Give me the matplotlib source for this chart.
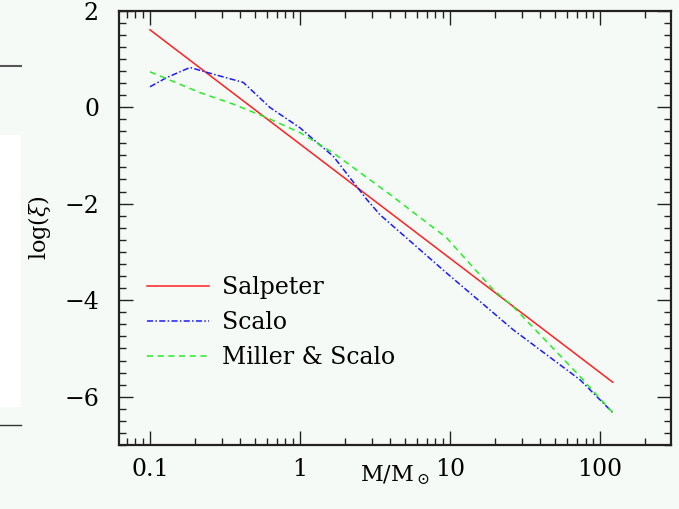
import numpy as np
import matplotlib
matplotlib.use("Agg")
import matplotlib.pyplot as plt
from matplotlib.ticker import FixedLocator, MultipleLocator, LogLocator, NullFormatter

# IMF curves, log(xi) vs log10(M/Msun)
salpeter_logm = [-1.0, 2.085]
salpeter_logxi = [1.60, -5.70]

scalo_logm = [-1.0, -0.889, -0.733, -0.6, -0.378, -0.2, 0.0, 0.089, 0.222,
              0.444, 0.533, 0.978, 1.42, 1.867, 2.085]
scalo_logxi = [0.42, 0.61, 0.82, 0.70, 0.51, -0.01, -0.43, -0.67, -1.02,
               -1.91, -2.23, -3.44, -4.61, -5.65, -6.33]

miller_logm = [-1.0, -0.667, -0.444, -0.222, 0.0, 0.222, 0.6, 0.978,
               1.287, 1.42, 1.867, 2.085]
miller_logxi = [0.73, 0.30, 0.06, -0.22, -0.53, -0.95, -1.81, -2.71,
                -3.78, -4.13, -5.58, -6.33]

labels = ["Salpeter", "Scalo", "Miller & Scalo"]
xtick_vals = [0.1, 1, 10, 100]
xtick_labels = ["0.1", "1", "10", "100"]

BG = "#f5faf7"
plt.rcParams["font.family"] = ["DejaVu Serif"]
plt.rcParams["mathtext.fontset"] = "dejavuserif"

fig = plt.figure(figsize=(6.79, 5.09), dpi=100, facecolor=BG)

# bits of the neighbouring panel that got cropped in
fig.patches.append(plt.Rectangle((0, 1 - 407 / 509), 21 / 679, 272 / 509,
                                 transform=fig.transFigure, facecolor="white",
                                 edgecolor="none", zorder=0))
fig.add_artist(plt.Line2D([0, 21 / 679], [1 - 66 / 509] * 2, transform=fig.transFigure,
                          color="#555555", lw=1.5))
fig.add_artist(plt.Line2D([0, 21 / 679], [1 - 425 / 509] * 2, transform=fig.transFigure,
                          color="#333333", lw=1.0))

ax = fig.add_axes([118.5 / 679, 1 - 445 / 509, 552.5 / 679, 434.5 / 509])
ax.set_facecolor(BG)

ax.plot(10 ** np.array(salpeter_logm), salpeter_logxi, color="#ff2020", lw=1.1,
        label=labels[0])
ax.plot(10 ** np.array(scalo_logm), scalo_logxi, color="#1a1aff", lw=1.1,
        dashes=(4, 1.5, 1, 1.5), label=labels[1])
ax.plot(10 ** np.array(miller_logm), miller_logxi, color="#22ee22", lw=1.1,
        dashes=(4, 3), label=labels[2])

ax.set_xscale("log")
ax.set_xlim(10 ** -1.21, 10 ** 2.473)
ax.set_ylim(-7, 2)

ax.xaxis.set_major_locator(FixedLocator(xtick_vals))
ax.set_xticklabels(xtick_labels)
ax.xaxis.set_minor_locator(LogLocator(base=10, subs=np.arange(2, 10)))
ax.xaxis.set_minor_formatter(NullFormatter())
ax.yaxis.set_major_locator(MultipleLocator(2))
ax.yaxis.set_minor_locator(MultipleLocator(0.25))
ax.set_yticks([-6, -4, -2, 0, 2])
ax.set_yticklabels(["\u22126", "\u22124", "\u22122", "0", "2"])

ax.tick_params(which="both", direction="in", top=True, right=True, width=1.0,
               color="#222222", labelsize=17)
ax.tick_params(which="major", length=10)
ax.tick_params(which="minor", length=5)
ax.tick_params(axis="x", pad=9)
ax.tick_params(axis="y", pad=14)
for s in ax.spines.values():
    s.set_linewidth(1.6)
    s.set_color("#222222")

ax.set_xlabel(r"M/M$_\odot$", fontsize=16, labelpad=-12)
ax.set_ylabel(r"log($\xi$)", fontsize=16, labelpad=8)

ax.legend(loc="upper left", bbox_to_anchor=(0.035, 0.41), frameon=False,
          fontsize=17, handlelength=2.6, handletextpad=0.55, labelspacing=0.5,
          borderaxespad=0)

fig.savefig("out.png", dpi=100, facecolor=BG)
